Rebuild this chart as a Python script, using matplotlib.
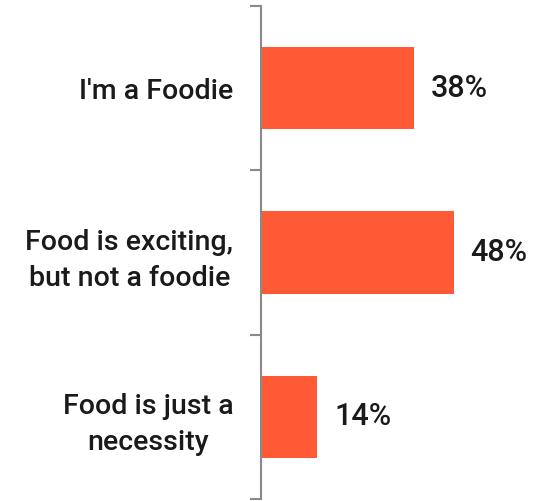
import matplotlib.pyplot as plt

categories = ["I'm a Foodie", "Food is exciting,\nbut not a foodie", "Food is just a\nnecessity"]
values = [38, 48, 14]

plt.rcParams['font.family'] = ['Roboto', 'DejaVu Sans']

fig = plt.figure(figsize=(5.54, 5.01), dpi=100)
ax = fig.add_axes([261 / 554, 2 / 501, 1 - 261 / 554, 493 / 501])

pos = range(len(categories))
ax.barh(pos, values, height=0.5, color="#FF5A36")
ax.set_ylim(2.5, -0.5)
ax.set_xlim(0, 73)

for y, v in zip(pos, values):
    ax.text(v + 4.2, y, f"{v}%", va="center", ha="left", fontsize=22,
            color="#1a1a1a", fontweight="medium")

ax.set_yticks([-0.5, 0.5, 1.5, 2.5])
ax.set_yticklabels([])
ax.set_yticks(list(pos), minor=True)
ax.set_yticklabels(categories, minor=True, fontsize=20.5, color="#1a1a1a",
                   ha="right", multialignment="center", linespacing=1.45,
                   fontweight="medium")
ax.tick_params(axis="y", which="major", length=8, width=1.5, color="#8a8a8a")
ax.tick_params(axis="y", which="minor", length=0, pad=20)
ax.set_xticks([])

for s in ["top", "right", "bottom"]:
    ax.spines[s].set_visible(False)
ax.spines["left"].set_color("#8a8a8a")
ax.spines["left"].set_linewidth(1.5)

fig.savefig("out.png", dpi=100)
